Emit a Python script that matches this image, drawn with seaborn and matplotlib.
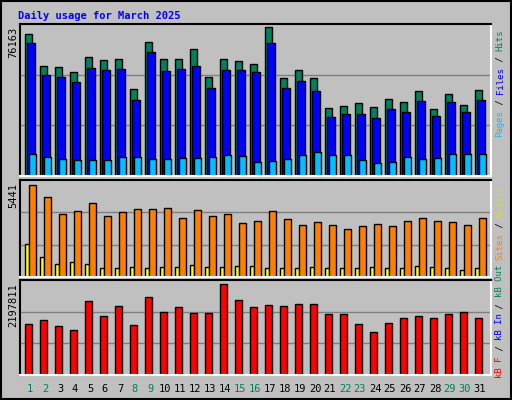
import numpy as np
import pandas as pd
import seaborn as sns
import matplotlib.pyplot as plt

# === Dados ===
days = list(range(1, 32))
weekend = [1, 2, 8, 9, 15, 16, 22, 23, 29, 30]

hits = [72707, 56473, 55955, 53364, 60618, 59063, 59582, 44557, 68389, 59582, 59582,
        64763, 50774, 59582, 58545, 57509, 76163, 50256, 54401, 50256, 34713, 35749,
        37303, 35231, 39376, 37821, 43520, 34195, 41966, 36267, 44039]
files = [68044, 51810, 50774, 48183, 55437, 54401, 54919, 38858, 63381, 53882, 54919,
         56473, 45075, 54401, 54401, 53364, 68044, 45075, 48701, 43520, 30050, 31604,
         31604, 29532, 34195, 32640, 38339, 30568, 37821, 32640, 38858]
pages = [11398, 9844, 8808, 8290, 8290, 8290, 9844, 9844, 8808, 8808, 9326, 9326, 9844,
         10880, 10362, 7253, 7771, 8808, 10880, 12434, 10880, 10880, 8290, 6735, 7253,
         9844, 8808, 9326, 11398, 11398, 11398]
sites = [5441, 4731, 3726, 3903, 4376, 3607, 3844, 4021, 4021, 4080, 3489, 3962, 3607,
         3726, 3193, 3312, 3903, 3430, 3075, 3252, 3075, 2838, 3016, 3134, 3016, 3312,
         3489, 3312, 3252, 3075, 3489]
visits = [1951, 1183, 769, 887, 769, 532, 532, 591, 532, 591, 591, 710, 591, 591, 650,
          650, 532, 532, 532, 591, 532, 532, 532, 591, 532, 532, 650, 591, 532, 414, 532]
kbytes = [1231742, 1328349, 1183438, 1086831, 1787233, 1424956, 1666472, 1207591,
          1883840, 1521563, 1642323, 1497412, 1497412, 2197811, 1811385, 1642323,
          1690626, 1666472, 1714775, 1714775, 1473260, 1473260, 1231742, 1038528,
          1255894, 1376652, 1424956, 1376652, 1473260, 1521563, 1376652]

# === Estilo ===
BG = "#C0C0C0"
GRID = "#808080"
C_HITS, C_FILES, C_PAGES = "#00805C", "#0000FF", "#00C0FF"
C_VISITS, C_SITES, C_KB = "#FFFF00", "#FF8000", "#FF0000"
GREEN_TXT = "#00805C"
MONO = "DejaVu Sans Mono"

sns.set_style("white")
plt.rcParams["font.family"] = MONO

W, H = 512, 400
fig = plt.figure(figsize=(W / 100, H / 100), dpi=100, facecolor=BG)

def add_panel(y0, y1):
    ax = fig.add_axes([20 / W, 1 - y1 / H, 471 / W, (y1 - y0) / H])
    ax.set_facecolor(BG)
    for s in ("top", "left"):
        ax.spines[s].set_color("black")
    for s in ("bottom", "right"):
        ax.spines[s].set_color("white")
    for s in ax.spines.values():
        s.set_linewidth(1.5)
    return ax

def draw_bars(ax, values, offset, width, color):
    df = pd.DataFrame({"x": np.array(days) + offset + width / 2, "v": values})
    sns.barplot(data=df, x="x", y="v", native_scale=True, width=width,
                color=color, saturation=1, edgecolor="black", linewidth=1, ax=ax)

def finish(ax, ytop, label):
    ax.set_xlim(1 - 5 / 15, 31 + 16 / 15)
    ax.set_ylim(0, ytop)
    for k in (1, 2):
        ax.axhline(ytop * k / 3, color=GRID, lw=1, zorder=0)
    ax.set_xticks([])
    ax.set_yticks([])
    ax.set_xlabel("")
    ax.set_ylabel("")
    pos = ax.get_position()
    fig.text(13 / W, pos.y1 - 3 / H, label, rotation=90, ha="center", va="top",
             fontsize=7.5, color="black")

ax1 = add_panel(24, 176)
draw_bars(ax1, hits, 0, 7 / 15, C_HITS)
draw_bars(ax1, files, 2 / 15, 8 / 15, C_FILES)
draw_bars(ax1, pages, 4 / 15, 7 / 15, C_PAGES)
finish(ax1, 76163 * 150 / 147, "76163")

ax2 = add_panel(180, 277)
draw_bars(ax2, visits, 0, 4 / 15, C_VISITS)
draw_bars(ax2, sites, 4 / 15, 7 / 15, C_SITES)
finish(ax2, 5441 * 97 / 92, "5441")

ax3 = add_panel(280, 375)
draw_bars(ax3, kbytes, 0, 7 / 15, C_KB)
finish(ax3, 2197811 * 95 / 91, "2197811")

# rótulos dos dias
for d in days:
    x = (25 + 15 * (d - 1) + 5) / W
    fig.text(x, 1 - 389 / H, str(d), ha="center", va="center", fontsize=7.5,
             color=GREEN_TXT if d in weekend else "black")

# título
fig.text(18 / W, 1 - 16 / H, "Daily usage for March 2025", ha="left", va="center",
         fontsize=7.5, fontweight="bold", color="#0000FF")

# legendas verticais coloridas (de baixo para cima)
fig.canvas.draw()
renderer = fig.canvas.get_renderer()

def vlegend(y_bottom, parts):
    y = 1 - y_bottom / H
    for txt, col in parts:
        t = fig.text(500 / W, y, txt, rotation=90, ha="center", va="bottom",
                     fontsize=6.5, color=col)
        bb = t.get_window_extent(renderer)
        y += bb.height / H

vlegend(137, [("Pages", C_PAGES), (" / ", "black"), ("Files", C_FILES),
              (" / ", "black"), ("Hits", C_HITS)])
vlegend(260, [("Sites", C_SITES), (" / ", "black"), ("Visits", "#E0E000")])
vlegend(378, [("kB F", C_KB), (" / ", "black"), ("kB In", C_FILES),
              (" / ", "black"), ("kB Out", C_HITS)])

# borda externa
fig.patches.append(plt.Rectangle((0.002, 0.002), 0.996, 0.996, transform=fig.transFigure,
                                 fill=False, edgecolor="black", lw=1.5))

fig.savefig("out.png", dpi=100, facecolor=BG)
